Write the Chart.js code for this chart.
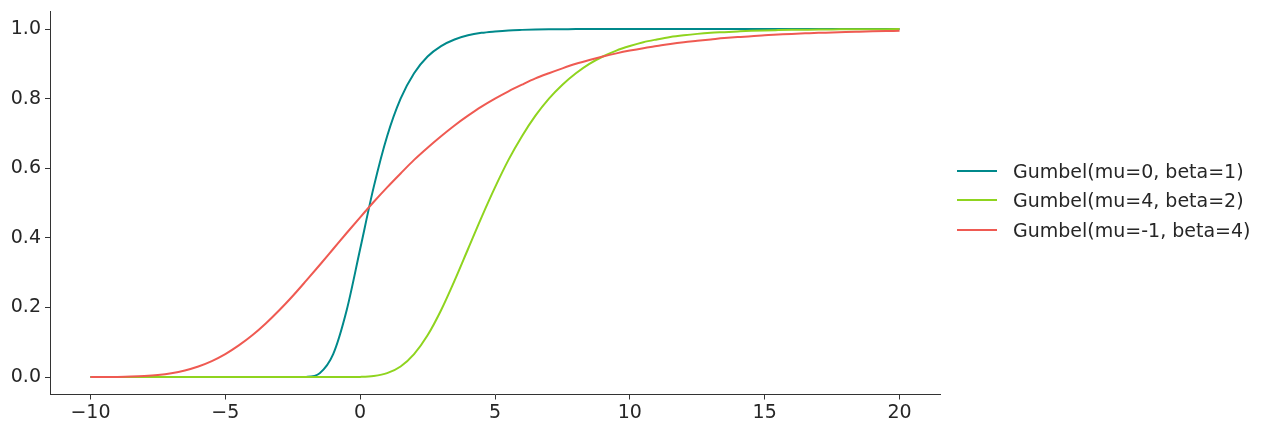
<!DOCTYPE html>
<html>
<head>
<meta charset="utf-8">
<script src="https://cdn.jsdelivr.net/npm/chart.js@4"></script>
<style>
    html, body { margin: 0; padding: 0; background: #fff; }
    #wrap { position: relative; width: 1268px; height: 434px; }
    #legend { position: absolute; left: 957px; top: 156px; font-family: "DejaVu Sans", sans-serif; font-size: 19px; color: #262626; }
    #legend .row { display: flex; align-items: center; height: 29.5px; }
    #legend .swatch { width: 40px; height: 2px; margin-right: 16px; }
</style>
</head>
<body>
<div id="wrap">
    <canvas id="gumbelChart" width="1268" height="434"></canvas>
    <div id="legend"></div>
</div>
<script>
const xValues = [
    -10, -9.5, -9, -8.5, -8, -7.5, -7, -6.5, -6, -5.5, -5, -4.5, -4, -3.5, -3, -2.5, -2, -1.5, -1, -0.5,
    0, 0.5, 1, 1.5, 2, 2.5, 3, 3.5, 4, 4.5, 5, 5.5, 6, 6.5, 7, 7.5, 8, 8.5, 9, 9.5,
    10, 10.5, 11, 11.5, 12, 12.5, 13, 13.5, 14, 14.5, 15, 15.5, 16, 16.5, 17, 17.5, 18, 18.5, 19, 19.5, 20
];
const seriesLabels = ['Gumbel(mu=0, beta=1)', 'Gumbel(mu=4, beta=2)', 'Gumbel(mu=-1, beta=4)'];
const tealValues = [
    0, 0, 0, 0, 0, 0, 0, 0, 0, 0, 0, 0, 0, 0, 0, 0, 0.0006, 0.0113, 0.066, 0.192,
    0.368, 0.545, 0.692, 0.800, 0.873, 0.921, 0.951, 0.970, 0.982, 0.989, 0.993, 0.996, 0.9975, 0.9985, 0.9991, 0.9994, 0.9997, 0.9998, 0.9999, 1,
    1, 1, 1, 1, 1, 1, 1, 1, 1, 1, 1, 1, 1, 1, 1, 1, 1, 1, 1, 1, 1
];
const greenValues = [
    0, 0, 0, 0, 0, 0, 0, 0, 0, 0, 0, 0, 0, 0, 0, 0, 0, 0, 0, 0.0001,
    0.0006, 0.0032, 0.0113, 0.0305, 0.066, 0.120, 0.192, 0.277, 0.368, 0.459, 0.545, 0.624, 0.692, 0.751, 0.800, 0.840, 0.873, 0.900, 0.921, 0.938,
    0.951, 0.962, 0.970, 0.977, 0.982, 0.986, 0.989, 0.991, 0.993, 0.9948, 0.996, 0.9968, 0.9975, 0.998, 0.9985, 0.9988, 0.9991, 0.9993, 0.9994, 0.9995, 0.9997
];
const redValues = [
    0.0001, 0.0002, 0.0006, 0.0015, 0.0032, 0.0062, 0.0113, 0.0192, 0.0305, 0.046, 0.066, 0.091, 0.120, 0.154, 0.192, 0.233, 0.277, 0.322, 0.368, 0.414,
    0.459, 0.503, 0.545, 0.585, 0.624, 0.659, 0.692, 0.723, 0.751, 0.777, 0.800, 0.821, 0.840, 0.858, 0.873, 0.887, 0.900, 0.911, 0.921, 0.930,
    0.938, 0.945, 0.951, 0.957, 0.962, 0.966, 0.970, 0.974, 0.977, 0.979, 0.982, 0.984, 0.986, 0.9875, 0.989, 0.990, 0.9914, 0.9924, 0.9933, 0.9941, 0.9948
];
const xTicks = [-10, -5, 0, 5, 10, 15, 20];
const yTicks = [0, 0.2, 0.4, 0.6, 0.8, 1.0];
const colors = ['#00898b', '#8fd41f', '#ef5a52'];

function toPoints(values) {
    return values.map(function (v, i) { return { x: xValues[i], y: v }; });
}

// later series sit on top, as in the original plot
const allSeries = [tealValues, greenValues, redValues];
const datasets = allSeries.map(function (values, i) {
    return {
        label: seriesLabels[i],
        data: toPoints(values),
        borderColor: colors[i],
        borderWidth: 2,
        pointRadius: 0,
        showLine: true,
        cubicInterpolationMode: 'monotone',
        fill: false,
        order: allSeries.length - i
    };
});

const legendEl = document.getElementById('legend');
seriesLabels.forEach(function (label, i) {
    const row = document.createElement('div');
    row.className = 'row';
    row.innerHTML = '<span class="swatch" style="background:' + colors[i] + '"></span><span>' + label + '</span>';
    legendEl.appendChild(row);
});

const tickFont = { family: 'DejaVu Sans', size: 19, lineHeight: 0.8 };

new Chart(document.getElementById('gumbelChart').getContext('2d'), {
    type: 'scatter',
    data: { datasets: datasets },
    options: {
        responsive: false,
        animation: false,
        layout: { padding: { top: 9.5, right: 328, left: 0, bottom: 0 } },
        plugins: { legend: { display: false }, tooltip: { enabled: false } },
        scales: {
            x: {
                type: 'linear',
                min: -11.5,
                max: 21.5,
                afterBuildTicks: function (axis) { axis.ticks = xTicks.map(function (v) { return { value: v }; }); },
                afterFit: function (axis) { axis.height = 39.5; },
                grid: { drawOnChartArea: false, drawTicks: true, tickLength: 5, color: '#333', lineWidth: 1 },
                border: { display: true, color: '#333', width: 1 },
                ticks: {
                    color: '#262626',
                    font: tickFont,
                    padding: 6,
                    maxRotation: 0,
                    callback: function (v) { return v < 0 ? '\u2212' + Math.abs(v) : String(v); }
                }
            },
            y: {
                min: -0.05,
                max: 1.05,
                afterBuildTicks: function (axis) { axis.ticks = yTicks.map(function (v) { return { value: v }; }); },
                afterFit: function (axis) { axis.width = 50; },
                grid: { drawOnChartArea: false, drawTicks: true, tickLength: 5, color: '#333', lineWidth: 1 },
                border: { display: true, color: '#333', width: 1 },
                ticks: {
                    color: '#262626',
                    font: tickFont,
                    padding: 4,
                    callback: function (v) { return v.toFixed(1); }
                }
            }
        }
    }
});
</script>
</body>
</html>
